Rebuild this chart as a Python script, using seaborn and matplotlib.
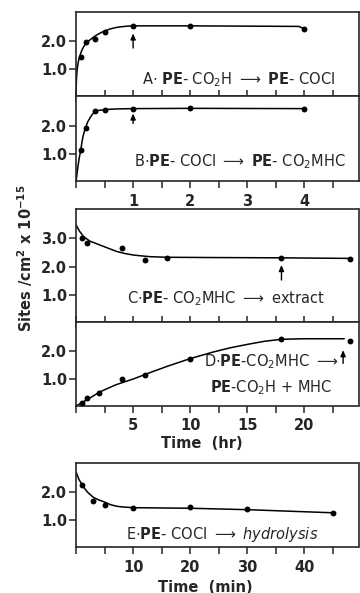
import numpy as np
import pandas as pd
import matplotlib
matplotlib.use("Agg")
import matplotlib.pyplot as plt
import seaborn as sns
from matplotlib.ticker import MultipleLocator, FixedLocator

sns.set_style("ticks")
plt.rcParams['font.family'] = ['DejaVu Sans']
plt.rcParams['mathtext.default'] = 'regular'

# ---------------- data ----------------
# Panel A: PE-CO2H -> PE-COCl (time in hr)
a_t = [0.083, 0.167, 0.333, 0.5, 1.0, 2.0, 4.0]
a_y = [1.43, 1.96, 2.08, 2.35, 2.56, 2.55, 2.45]
a_ct = [0.0, 0.002, 0.006, 0.01, 0.02, 0.03, 0.04, 0.055, 0.07, 0.09, 0.11, 0.14, 0.17,
        0.21, 0.26, 0.31, 0.37, 0.44, 0.52, 0.6, 0.7, 0.8, 0.9, 1.0, 2.0, 3.0, 3.9, 4.0]
a_cy = [0.0, 0.3, 0.58, 0.75, 1.0, 1.15, 1.27, 1.4, 1.5, 1.62, 1.72, 1.83, 1.92,
        2.0, 2.08, 2.16, 2.24, 2.32, 2.39, 2.45, 2.5, 2.53, 2.55, 2.56, 2.56, 2.55, 2.54, 2.46]

# Panel B: PE-COCl -> PE-CO2MHC (time in hr)
b_t = [0.083, 0.167, 0.333, 0.5, 1.0, 2.0, 4.0]
b_y = [1.14, 1.91, 2.53, 2.56, 2.61, 2.62, 2.61]
b_ct = [0.0, 0.02, 0.04, 0.06, 0.083, 0.1, 0.12, 0.145, 0.167, 0.2, 0.25, 0.29, 0.333,
        0.4, 0.5, 0.6, 0.75, 1.0, 2.0, 4.0]
b_cy = [0.0, 0.35, 0.65, 0.9, 1.14, 1.38, 1.6, 1.8, 1.93, 2.12, 2.3, 2.42, 2.5,
        2.55, 2.57, 2.59, 2.6, 2.61, 2.62, 2.61]

# Panel C: PE-CO2MHC -> extract (time in hr)
c_t = [0.5, 1.0, 4.0, 6.0, 8.0, 18.0, 24.0]
c_y = [3.0, 2.82, 2.67, 2.23, 2.31, 2.31, 2.27]
c_ct = [0.0, 0.3, 0.65, 1.2, 2.1, 3.0, 3.6, 4.3, 5.0, 5.7, 6.5, 8.0, 12.0, 18.0, 24.0]
c_cy = [3.47, 3.25, 3.06, 2.9, 2.76, 2.62, 2.53, 2.46, 2.41, 2.38, 2.35, 2.33, 2.32, 2.31, 2.29]

# Panel D: PE-CO2MHC -> PE-CO2H + MHC (time in hr)
d_t = [0.5, 1.0, 2.0, 4.0, 6.0, 10.0, 18.0, 24.0]
d_y = [0.17, 0.33, 0.5, 1.0, 1.13, 1.7, 2.41, 2.34]
d_ct = [0.0, 1.0, 2.1, 3.5, 5.0, 6.5, 8.0, 10.0, 12.0, 13.5, 15.0, 16.5, 18.0, 20.0, 23.5]
d_cy = [0.05, 0.28, 0.55, 0.8, 1.0, 1.23, 1.45, 1.72, 1.95, 2.1, 2.22, 2.33, 2.4, 2.42, 2.42]

# Panel E: PE-COCl -> hydrolysis (time in min)
e_t = [1, 3, 5, 10, 20, 30, 45]
e_y = [2.24, 1.68, 1.56, 1.43, 1.47, 1.40, 1.27]
e_ct = [0.0, 0.5, 1.3, 2.0, 3.0, 4.0, 5.0, 6.0, 7.1, 8.5, 10.0, 20.0, 30.0, 45.0]
e_cy = [2.71, 2.45, 2.18, 2.0, 1.82, 1.72, 1.65, 1.56, 1.5, 1.47, 1.45, 1.43, 1.38, 1.27]

# arrows marking end points (x, y_bottom, y_top)
a_arrow = (1.0, 1.76, 2.29)
b_arrow = (1.0, 2.08, 2.44)
c_arrow = (18.0, 1.53, 2.06)
d_arrow = (23.4, 1.55, 2.02)

labels = {
    "A": r"A$\cdot$ $\mathbf{PE}$- CO$_2$H $\longrightarrow$ $\mathbf{PE}$- COCl",
    "B": r"B$\cdot$$\mathbf{PE}$- COCl $\longrightarrow$ $\mathbf{PE}$- CO$_2$MHC",
    "C": r"C$\cdot$$\mathbf{PE}$- CO$_2$MHC $\longrightarrow$ extract",
    "D1": r"D$\cdot$$\mathbf{PE}$-CO$_2$MHC $\longrightarrow$",
    "D2": r"$\mathbf{PE}$-CO$_2$H + MHC",
    "E": r"E$\cdot$$\mathbf{PE}$- COCl $\longrightarrow$ $\it{hydrolysis}$",
}

# ---------------- figure ----------------
W, H = 360, 593
fig = plt.figure(figsize=(W / 100, H / 100), dpi=100)

def ax_at(top_px, bot_px, left_px=75.5, right_px=358.5):
    return fig.add_axes([left_px / W, 1 - bot_px / H,
                         (right_px - left_px) / W, (bot_px - top_px) / H])

axA = ax_at(12, 96)
axB = ax_at(96, 181)
axC = ax_at(209, 322)
axD = ax_at(322, 406)
axE = ax_at(463, 547)

lw_spine = 1.2
ink = "black"

def draw(ax, ct, cy, t, y):
    sns.lineplot(x=ct, y=cy, ax=ax, color=ink, linewidth=1.1, sort=False,
                 estimator=None, legend=False)
    sns.scatterplot(x=t, y=y, ax=ax, color=ink, s=18, edgecolor=ink,
                    linewidth=0, zorder=5, legend=False, clip_on=False)
    for s in ax.spines.values():
        s.set_linewidth(lw_spine)
        s.set_visible(True)
    ax.set_xlabel("")
    ax.set_ylabel("")

def arrow(ax, spec):
    x, y0, y1 = spec
    ax.annotate("", xy=(x, y1), xytext=(x, y0),
                arrowprops=dict(arrowstyle="-|>,head_length=0.35,head_width=0.15",
                                color=ink, lw=1.0, shrinkA=0, shrinkB=0))

draw(axA, a_ct, a_cy, a_t, a_y)
draw(axB, b_ct, b_cy, b_t, b_y)
draw(axC, c_ct, c_cy, c_t, c_y)
draw(axD, d_ct, d_cy, d_t, d_y)
draw(axE, e_ct, e_cy, e_t, e_y)

arrow(axA, a_arrow)
arrow(axB, b_arrow)
arrow(axC, c_arrow)
arrow(axD, d_arrow)

# limits
for ax in (axA, axB):
    ax.set_xlim(-0.01, 4.95)
    ax.set_ylim(0.03, 3.06)
for ax in (axC, axD):
    ax.set_xlim(-0.05, 24.75)
axC.set_ylim(0.05, 4.03)
axD.set_ylim(0.05, 3.01)
axE.set_xlim(-0.1, 49.5)
axE.set_ylim(0.06, 3.03)

tickfont = dict(fontsize=10.5, fontweight="bold")

def yt(ax, vals):
    ax.set_yticks(vals)
    ax.set_yticklabels([f"{v:.1f}" for v in vals], **tickfont)
    ax.tick_params(axis="y", direction="out", length=5, width=1.1, pad=1)

yt(axA, [1.0, 2.0])
yt(axB, [1.0, 2.0])
yt(axC, [1.0, 2.0, 3.0])
yt(axD, [1.0, 2.0])
yt(axE, [1.0, 2.0])

# x ticks
axA.xaxis.set_major_locator(MultipleLocator(0.5))
axA.set_xticklabels([])
axA.tick_params(axis="x", direction="inout", length=8, width=1.1, labelbottom=False)

axB.set_xticks([1, 2, 3, 4])
axB.set_xticklabels(["1", "2", "3", "4"], **tickfont)
axB.xaxis.set_minor_locator(MultipleLocator(0.5))
axB.tick_params(axis="x", which="both", direction="out", length=5, width=1.1, pad=4)

axC.xaxis.set_major_locator(MultipleLocator(2.5))
axC.tick_params(axis="x", direction="inout", length=8, width=1.1, labelbottom=False)

axD.set_xticks([5, 10, 15, 20])
axD.set_xticklabels(["5", "10", "15", "20"], **tickfont)
axD.xaxis.set_minor_locator(MultipleLocator(2.5))
axD.tick_params(axis="x", which="both", direction="out", length=5, width=1.1, pad=4)

axE.set_xticks([10, 20, 30, 40])
axE.set_xticklabels(["10", "20", "30", "40"], **tickfont)
axE.xaxis.set_minor_locator(MultipleLocator(5))
axE.tick_params(axis="x", which="both", direction="out", length=5, width=1.1, pad=4)

# panel labels (positions in pixel -> figure fraction)
def ftext(xpx, ypx, s, ha="center", **kw):
    fig.text(xpx / W, 1 - ypx / H, s, ha=ha, va="center", **kw)

ftext(239, 80, labels["A"], fontsize=10.5)
ftext(240, 162, labels["B"], fontsize=10.5)
ftext(226, 299, labels["C"], fontsize=10.5)
ftext(271, 362, labels["D1"], fontsize=10.5)
ftext(271, 388, labels["D2"], fontsize=10.5)
ftext(222, 534, labels["E"], fontsize=10.5)

ftext(202, 443, "Time  (hr)", fontsize=10.5, fontweight="bold")
ftext(205, 587, "Time  (min)", fontsize=10.5, fontweight="bold")
fig.text(25 / W, 1 - 258 / H, r"Sites /cm$^{2}$ x 10$^{-15}$", rotation=90,
         ha="center", va="center", fontsize=10.5, fontweight="bold")

fig.savefig("out.png", dpi=100, facecolor="white")
